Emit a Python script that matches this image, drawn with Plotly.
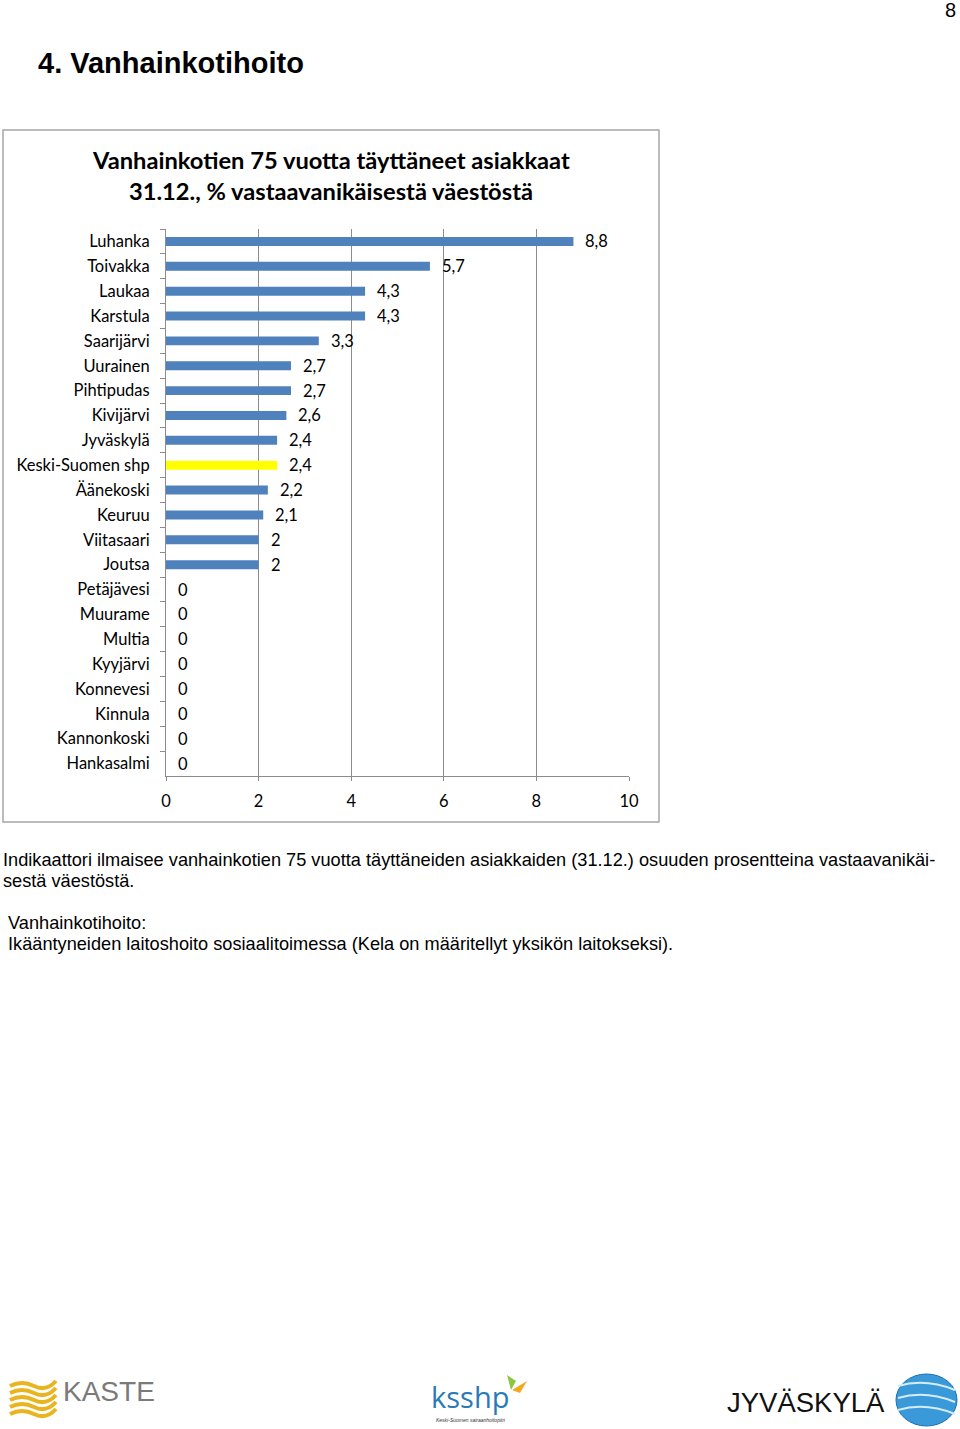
import plotly.graph_objects as go

categories = ["Luhanka", "Toivakka", "Laukaa", "Karstula", "Saarijärvi", "Uurainen",
              "Pihtipudas", "Kivijärvi", "Jyväskylä", "Keski-Suomen shp", "Äänekoski",
              "Keuruu", "Viitasaari", "Joutsa", "Petäjävesi", "Muurame", "Multia",
              "Kyyjärvi", "Konnevesi", "Kinnula", "Kannonkoski", "Hankasalmi"]
values = [8.8, 5.7, 4.3, 4.3, 3.3, 2.7, 2.7, 2.6, 2.4, 2.4, 2.2, 2.1, 2, 2,
          0, 0, 0, 0, 0, 0, 0, 0]
highlight = "Keski-Suomen shp"
x_ticks = [0, 2, 4, 6, 8, 10]

W, H = 960, 1429
def px(x):
    return x / W
def py(y):
    return 1 - y / H

BLUE = "#4F81BD"
YELLOW = "#FFFF00"
colors = [YELLOW if c == highlight else BLUE for c in categories]

def fmt(v):
    s = ("%.1f" % v).rstrip("0").rstrip(".")
    return s.replace(".", ",")

fig = go.Figure()
fig.add_trace(go.Bar(
    x=values, y=categories, orientation="h",
    marker=dict(color=colors, line=dict(width=0)),
    showlegend=False, hoverinfo="skip",
))

CAL = "Lato, 'Open Sans', sans-serif"
ARIAL = "'Liberation Sans', Arial, sans-serif"

annotations = []
for c, v in zip(categories, values):
    annotations.append(dict(
        x=v, y=c, xref="x", yref="y", text=fmt(v), showarrow=False,
        xanchor="left", yanchor="middle", xshift=10,
        font=dict(family=CAL, size=16.5, color="#000000"),
    ))

body = dict(family=ARIAL, size=18.2, color="#000000")
annotations += [
    dict(x=px(36), y=py(63), xref="paper", yref="paper", text="<b>4. Vanhainkotihoito</b>",
         showarrow=False, xanchor="left", yanchor="middle",
         font=dict(family=ARIAL, size=29, color="#000000")),
    dict(x=px(958), y=py(10), xref="paper", yref="paper", text="8",
         showarrow=False, xanchor="right", yanchor="middle",
         font=dict(family=ARIAL, size=20, color="#000000")),
    dict(x=px(331), y=py(160), xref="paper", yref="paper",
         text="<b>Vanhainkotien 75 vuotta täyttäneet asiakkaat</b>",
         showarrow=False, xanchor="center", yanchor="middle",
         font=dict(family=CAL, size=23.7, color="#000000")),
    dict(x=px(331), y=py(191), xref="paper", yref="paper",
         text="<b>31.12., % vastaavanikäisestä väestöstä</b>",
         showarrow=False, xanchor="center", yanchor="middle",
         font=dict(family=CAL, size=23.7, color="#000000")),
    dict(x=px(1), y=py(860), xref="paper", yref="paper",
         text="Indikaattori ilmaisee vanhainkotien 75 vuotta täyttäneiden asiakkaiden (31.12.) osuuden prosentteina vastaavanikäi-",
         showarrow=False, xanchor="left", yanchor="middle", font=body),
    dict(x=px(1), y=py(881), xref="paper", yref="paper", text="sestä väestöstä.",
         showarrow=False, xanchor="left", yanchor="middle", font=body),
    dict(x=px(6), y=py(923), xref="paper", yref="paper", text="Vanhainkotihoito:",
         showarrow=False, xanchor="left", yanchor="middle", font=body),
    dict(x=px(6), y=py(944), xref="paper", yref="paper",
         text="Ikääntyneiden laitoshoito sosiaalitoimessa (Kela on määritellyt yksikön laitokseksi).",
         showarrow=False, xanchor="left", yanchor="middle", font=body),
    # logos (text approximations)
    dict(x=px(61), y=py(1391), xref="paper", yref="paper", text="KASTE",
         showarrow=False, xanchor="left", yanchor="middle",
         font=dict(family=ARIAL, size=28, color="#7a7a7a")),
    dict(x=px(429), y=py(1396), xref="paper", yref="paper", text="ksshp",
         showarrow=False, xanchor="left", yanchor="middle",
         font=dict(family="'Open Sans', sans-serif", size=29, color="#2a7ab8")),
    dict(x=px(471), y=py(1420), xref="paper", yref="paper", text="<i>Keski-Suomen sairaanhoitopiiri</i>",
         showarrow=False, xanchor="center", yanchor="middle",
         font=dict(family=ARIAL, size=5, color="#333333")),
    dict(x=px(725), y=py(1402), xref="paper", yref="paper", text="JYVÄSKYLÄ",
         showarrow=False, xanchor="left", yanchor="middle",
         font=dict(family="'Liberation Sans Narrow', 'Liberation Sans', sans-serif", size=27.5, color="#111111")),
]

shapes = [
    dict(type="rect", xref="paper", yref="paper", x0=px(3), x1=px(659), y0=py(822), y1=py(130),
         line=dict(color="#A6A6A6", width=1.5), fillcolor="rgba(0,0,0,0)", layer="below"),
]
# KASTE waves
for i in range(5):
    y0 = 1384 + i * 7
    shapes.append(dict(type="path", xref="paper", yref="paper",
                       path="M %f %f Q %f %f %f %f T %f %f" % (
                           px(10), py(y0 + 2), px(22), py(y0 - 4), px(34), py(y0 + 2), px(56), py(y0 - 3)),
                       line=dict(color="#E8B520", width=4)))
# ksshp butterfly
shapes.append(dict(type="path", xref="paper", yref="paper",
                   path="M %f %f L %f %f L %f %f Z" % (px(511), py(1390), px(507), py(1375), px(516), py(1381)),
                   fillcolor="#8DC63F", line=dict(width=0)))
shapes.append(dict(type="path", xref="paper", yref="paper",
                   path="M %f %f L %f %f L %f %f Z" % (px(512), py(1390), px(527), py(1381), px(520), py(1393)),
                   fillcolor="#F4A81D", line=dict(width=0)))
# Jyväskylä circle
shapes.append(dict(type="circle", xref="paper", yref="paper",
                   x0=px(896), x1=px(957), y0=py(1426), y1=py(1374),
                   fillcolor="#3A9AD9", line=dict(color="#1C6FB5", width=1)))
for yy in [1386, 1398, 1410]:
    shapes.append(dict(type="path", xref="paper", yref="paper",
                       path="M %f %f Q %f %f %f %f" % (px(898), py(yy), px(925), py(yy - 8), px(955), py(yy + 4)),
                       line=dict(color="#D5ECF8", width=2)))

fig.update_layout(
    width=W, height=H, autosize=False,
    margin=dict(l=0, r=0, t=0, b=0, pad=0),
    paper_bgcolor="white", plot_bgcolor="white",
    bargap=0.64,
    annotations=annotations,
    shapes=shapes,
    xaxis=dict(
        domain=[px(166), px(629)], range=[0, 10], automargin=False,
        tickvals=x_ticks, ticktext=[str(t) for t in x_ticks],
        showgrid=True, gridcolor="#8C8C8C", gridwidth=1,
        showline=True, linecolor="#8C8C8C", linewidth=1,
        ticks="outside", ticklen=4, tickcolor="#8C8C8C",
        ticklabelstandoff=6,
        tickfont=dict(family=CAL, size=16.5, color="#000000"),
        zeroline=False, fixedrange=True,
    ),
    yaxis=dict(
        domain=[py(776), py(229)], automargin=False,
        categoryorder="array", categoryarray=categories,
        autorange="reversed",
        showgrid=False, showline=True, linecolor="#8C8C8C", linewidth=1,
        ticks="outside", ticklen=5, tickcolor="#8C8C8C", tickson="boundaries",
        ticklabelstandoff=12,
        tickfont=dict(family=CAL, size=16.5, color="#000000"),
        fixedrange=True,
    ),
)

fig.write_html("out.html", config={"displayModeBar": False},
               post_script="document.body.style.margin='0';document.body.style.overflow='hidden';")
